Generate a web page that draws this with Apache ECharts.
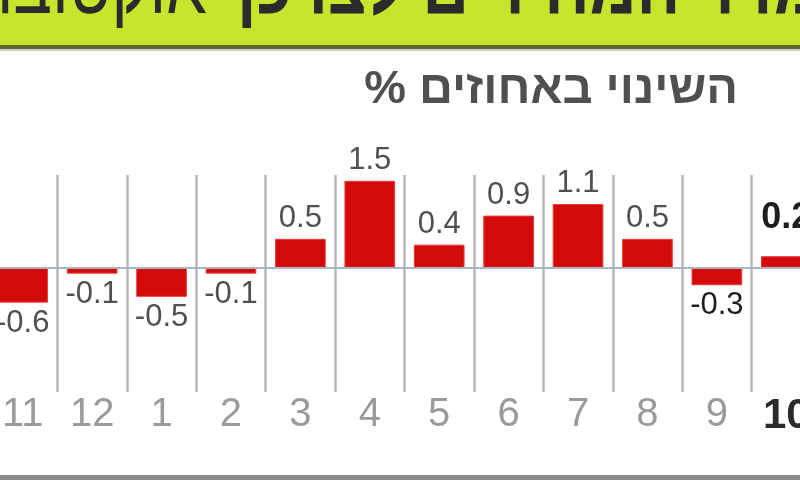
<!DOCTYPE html>
<html>
<head>
<meta charset="utf-8">
<script src="https://cdn.jsdelivr.net/npm/echarts@6/dist/echarts.min.js"></script>
<style>
html,body{margin:0;padding:0;background:#fff;overflow:hidden;width:800px;height:480px}
#c{position:absolute;left:-12px;top:0;width:833px;height:480px}
</style>
</head>
<body>
<div id="c"></div>
<script>
// ---- data ----
const months = ['11', '12', '1', '2', '3', '4', '5', '6', '7', '8', '9', '10'];
const changes = [-0.6, -0.1, -0.5, -0.1, 0.5, 1.5, 0.4, 0.9, 1.1, 0.5, -0.3, 0.2];
const titleBold = 'מדד המחירים לצרכן';
const titleRegular = 'אוקטובר';
const subtitle = 'השינוי באחוזים %\u200F';

const FONT = '"Liberation Sans", Arial, sans-serif';
const last = months.length - 1;
const OX = 12; // container is shifted left by 12px so the first/last bars are cut like the original

const barData = changes.map((v, i) => {
  const isLast = i === last;
  return {
    value: v,
    label: {
      position: v >= 0 ? 'top' : 'bottom',
      distance: isLast ? 20 : 5,
      color: (isLast || i === last - 1) ? '#1e1e1e' : '#505050',
      fontWeight: isLast ? 'bold' : 'normal',
      fontSize: isLast ? 36 : 31
    }
  };
});

const chart = echarts.init(document.getElementById('c'), null, { renderer: 'canvas' });
chart.setOption({
  backgroundColor: '#ffffff',
  animation: false,
  grid: { left: 0, right: 0, top: 175, height: 217, containLabel: false },
  xAxis: {
    type: 'category',
    data: months,
    boundaryGap: true,
    axisLine: { show: false, onZero: false },
    axisTick: { show: false },
    splitLine: { show: true, interval: 0, lineStyle: { color: '#b8b8b8', width: 2.5 } },
    axisLabel: {
      interval: 0,
      margin: 3,
      fontSize: 40,
      color: '#9a9a9a',
      fontFamily: FONT,
      formatter: (v, i) => (i === last ? '{b|' + v + '}' : v),
      rich: { b: { fontSize: 42, fontWeight: 'bold', color: '#2a2a2a', fontFamily: FONT } }
    }
  },
  yAxis: { type: 'value', min: -2.14, max: 1.6, show: false, splitLine: { show: false } },
  series: [{
    type: 'bar',
    data: barData,
    barWidth: '73%',
    itemStyle: { color: '#d20a0a', borderColor: '#ec3a3a', borderWidth: 1 },
    label: { show: true, fontFamily: FONT },
    markLine: {
      silent: true,
      symbol: 'none',
      label: { show: false },
      lineStyle: { color: '#a9b4be', width: 2, type: 'solid' },
      data: [{ yAxis: 0 }]
    }
  }],
  graphic: [
    { type: 'rect', shape: { x: 0, y: 0, width: 833, height: 45 }, style: { fill: '#c6e52c' }, z: 0 },
    { type: 'rect', shape: { x: 0, y: 45, width: 833, height: 4 }, style: { fill: '#5b6a27' }, z: 0 },
    { type: 'rect', shape: { x: 0, y: 49, width: 833, height: 2 }, style: { fill: '#cfcfcf' }, z: 0 },
    {
      type: 'text', x: 237 + OX, y: 31, scaleX: 0.81, z: 1,
      style: { text: titleBold, font: 'bold 80px ' + FONT, fill: '#2b2b2b', textAlign: 'left', textVerticalAlign: 'bottom' }
    },
    {
      type: 'text', x: 207 + OX, y: 31, scaleX: 0.81, z: 1,
      style: { text: titleRegular, font: 'normal 80px ' + FONT, fill: '#2b2b2b', textAlign: 'right', textVerticalAlign: 'bottom' }
    },
    {
      type: 'text', x: 738 + OX, y: 114, z: 1,
      style: { text: subtitle, font: 'bold 47px ' + FONT, fill: '#505050', textAlign: 'right', textVerticalAlign: 'bottom' }
    },
    { type: 'rect', shape: { x: 0, y: 475, width: 833, height: 5 }, style: { fill: '#8c8c8c' }, z: 0 }
  ]
});
</script>
</body>
</html>
